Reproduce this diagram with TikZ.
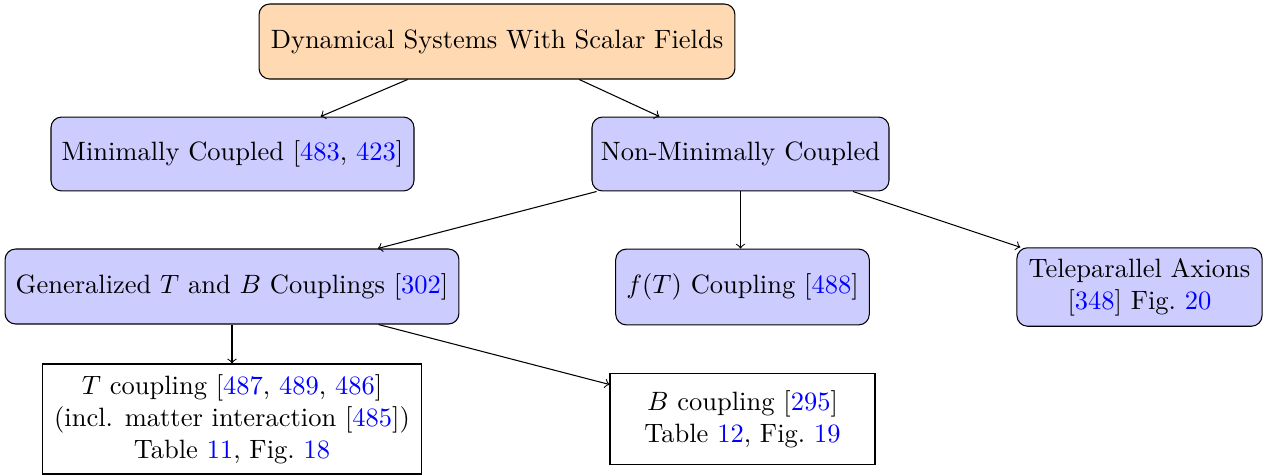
\documentclass[tikz,border=0pt]{standalone}
\usetikzlibrary{arrows}
\begin{document}
\begin{tikzpicture}[x=0.3774pt,y=-0.3774pt,
  box/.style={draw,rounded corners=4pt,fill=blue!20,align=center,inner sep=0pt},
  topbox/.style={box,fill=orange!30},
  plain/.style={draw,align=center,inner sep=0pt},
  link/.style={->,>=to}]
\useasboundingbox (0,0) rectangle (1271,476);
\newcommand{\cref}[1]{\textcolor{blue}{#1}}
\node[topbox,minimum width=179.6pt,minimum height=28.3pt] (top) at (497,41.5) {Dynamical Systems With Scalar Fields};
\node[box,minimum width=137pt,minimum height=27.9pt] (min) at (232.5,154) {Minimally Coupled [\cref{483}, \cref{423}]};
\node[box,minimum width=112.1pt,minimum height=27.9pt] (non) at (740.5,154) {Non-Minimally Coupled};
\node[box,minimum width=171.3pt,minimum height=28.3pt] (gen) at (232,286.5) {Generalized $T$ and $B$ Couplings [\cref{302}]};
\node[box,minimum width=95.7pt,minimum height=28.6pt] (ft) at (742.5,287) {$f(T)$ Coupling [\cref{488}]};
\node[box,minimum width=92.5pt,minimum height=29.6pt] (tele) at (1139.5,287) {Teleparallel Axions\\{}[\cref{348}] Fig.~\cref{20}};
\node[plain,minimum width=142.7pt,minimum height=41.5pt] (tc) at (232,419) {$T$ coupling [\cref{487}, \cref{489}, \cref{486}]\\ (incl. matter interaction [\cref{485}])\\ Table \cref{11}, Fig.~\cref{18}};
\node[plain,minimum width=100pt,minimum height=34.3pt] (bc) at (742.5,419) {$B$ coupling [\cref{295}]\\ Table \cref{12}, Fig.~\cref{19}};
\draw[link] (top) -- (min);
\draw[link] (top) -- (non);
\draw[link] (non) -- (gen);
\draw[link] (non.south) -- (non.south |- ft.north);
\draw[link] (non) -- (tele);
\draw[link] (gen) -- (tc);
\draw[link] (gen) -- (bc);
\end{tikzpicture}
\end{document}
